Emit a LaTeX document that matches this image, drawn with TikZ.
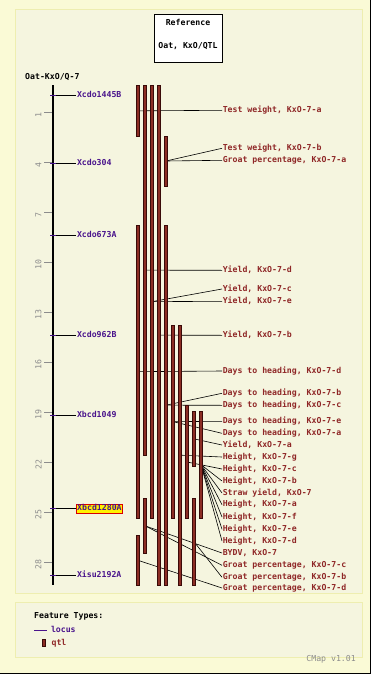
\documentclass[tikz,border=0pt]{standalone}
\usepackage{fontspec}
\setmonofont{DejaVu Sans Mono}
\usetikzlibrary{positioning}
\definecolor{pagebg}{HTML}{FAFAD6}
\definecolor{panelbg}{HTML}{F5F5DF}
\definecolor{panelrule}{HTML}{EEEEB0}
\definecolor{qtltext}{HTML}{8F2727}
\definecolor{qtlfill}{HTML}{8C2D24}
\definecolor{qtledge}{HTML}{3A0A08}
\definecolor{locuspurple}{HTML}{4A148C}
\definecolor{tickgray}{HTML}{8C8C8C}
\pgfdeclarelayer{bg}
\pgfdeclarelayer{links}
\pgfsetlayers{bg,links,main}

\begin{document}
\begin{tikzpicture}[x=1pt,y=-1pt,font=\ttfamily\bfseries\fontsize{8.2pt}{9pt}\selectfont]
 \tikzstyle{qtl}=[rectangle,draw=qtledge,fill=qtlfill,line width=0.6pt,minimum width=3.4pt,inner sep=0]
 \tikzstyle{trait}=[text=qtltext,anchor=west,inner sep=0.6pt,text height=6pt,text depth=1.6pt]
 \tikzstyle{locus}=[text=locuspurple,anchor=west,inner sep=0.8pt,text height=6pt,text depth=1.6pt]
 \tikzstyle{plain}=[inner sep=0,text height=6pt,text depth=1.6pt]
 \tikzstyle{link}=[black,line width=0.6pt]
 \tikzstyle{panel}=[draw=panelrule,fill=panelbg,line width=1pt]
 \useasboundingbox (0,0) rectangle (371,674);
 \begin{pgfonlayer}{bg}
  \fill[pagebg] (0,0) rectangle (371,674);
  \draw[panel] (15,10) rectangle (362,593);
  \draw[panel] (15,602) rectangle (362,657);
  \draw[line width=1pt] (370.5,0) -- (370.5,673.5) -- (0,673.5);
 \end{pgfonlayer}
 % title box
 \node[draw,fill=white,line width=0.8pt,minimum width=68pt,minimum height=48pt] (refbox) at (188,38) {};
 \node[plain] (reftitle) [below=5.5pt of refbox.north] {Reference};
 \node[plain] (refname) [below=15pt of reftitle] {Oat, KxO/QTL};
 \node[plain,anchor=west] (maptitle) at (25,77) {Oat-KxO/Q-7};
 % map axis
 \foreach \v in {1,4,...,28} {
  \draw[tickgray,line width=0.8pt] (44,{95.33+16.67*\v}) -- (53,{95.33+16.67*\v});
  \node[text=tickgray,rotate=90,inner sep=0] (t\v) at (38.5,{98+16.67*\v}) {\mdseries\v};
 }
 \node[fill=black,inner sep=0,minimum width=1.6pt,minimum height=500pt] (chr) at (53,335) {};
 % loci
 \foreach \n/\y/\t in {cdoA/95.3/Xcdo1445B, cdoB/163/Xcdo304, cdoC/235.3/Xcdo673A,
   cdoD/335.3/Xcdo962B, bcdA/415.3/Xbcd1049, isuA/575.3/Xisu2192A}
  \node[locus] (\n) at (76,\y) {\t};
 \node[locus,fill=yellow,draw=red!85!black,line width=0.8pt] (bcdB) at (76,508.7) {Xbcd1280A};
 \foreach \n in {cdoA,cdoB,cdoC,cdoD,bcdA,bcdB,isuA} {
  \draw[link] (\n.west -| chr.center) ++(-3pt,0) -- (\n.west);
  \draw[locuspurple,line width=0.8pt] (\n.west -| chr.center) ++(-3pt,0) -- ++(6pt,0);
 }
 % qtl bars: name/column/top/bottom
 \foreach \n/\c/\t/\b in {b1/0/85/136.7, b2/1/85/455.3, b3/2/85/518.3, b4/3/85/585.3,
   b5/4/136/186, b6/0/225/518.3, b7/4/225/585.3, b8/5/325/518.3, b9/6/325/585.3,
   b10/7/405.7/518.3, b11/8/411/466.7, b12/9/411/518.3, b13/1/498.3/553.3,
   b14/8/498/585.3, b15/0/535.3/585.3}
  \node[qtl,minimum height={(\b-\t)*1pt}] (\n) at ({138+7*\c},{(\t+\b)/2}) {};
 % trait labels
 \foreach \n/\y/\t in {twa/110.3/{Test weight, KxO-7-a}, twb/148.3/{Test weight, KxO-7-b},
   gpa/160.3/{Groat percentage, KxO-7-a}, yld/270.3/{Yield, KxO-7-d},
   ylc/289/{Yield, KxO-7-c}, yle/301.3/{Yield, KxO-7-e}, ylb/335.3/{Yield, KxO-7-b},
   dhd/371/{Days to heading, KxO-7-d}, dhb/393.3/{Days to heading, KxO-7-b},
   dhc/405.3/{Days to heading, KxO-7-c}, dhe/421.3/{Days to heading, KxO-7-e},
   dha/433.3/{Days to heading, KxO-7-a}, yla/445/{Yield, KxO-7-a},
   htg/457/{Height, KxO-7-g}, htc/469/{Height, KxO-7-c}, htb/481/{Height, KxO-7-b},
   sty/493/{Straw yield, KxO-7}, hta/504.7/{Height, KxO-7-a}, htf/517/{Height, KxO-7-f},
   hte/529.3/{Height, KxO-7-e}, htd/541/{Height, KxO-7-d}, bydv/553/{BYDV, KxO-7},
   gpc/565.3/{Groat percentage, KxO-7-c}, gpb/577.3/{Groat percentage, KxO-7-b},
   gpd/588/{Groat percentage, KxO-7-d}}
  \node[trait] (\n) at (222,\y) {\t};
 \begin{pgfonlayer}{links}
  \foreach \a/\b in {b1/twa, b5/twb, b5/gpa, b2/yld, b3/ylc, b3/yle, b4/ylb, b6/dhd,
    b7/dhb, b7/dhc, b8/dhe, b8/dha, b11/yla, b9/htg, b10/htc, b12/htb, b12/sty,
    b12/hta, b12/htf, b12/hte, b12/htd, b13/bydv, b13/gpc, b14/gpb, b15/gpd}
   \draw[link] (\a.center) -- (\b.west);
 \end{pgfonlayer}
 % legend
 \node[plain,anchor=west] (ftypes) at (34,616.7) {Feature Types:};
 \coordinate (lkA) at (34,630);
 \coordinate (lkB) at (47,630);
 \draw[locuspurple,line width=0.8pt] (lkA) -- (lkB);
 \node[locus] (lockey) [right=3pt of lkB] {locus};
 \node[qtl,minimum height=6.5pt] (qkey) at (43.8,643) {};
 \node[trait] (qtlkey) [right=5pt of qkey] {qtl};
 \node[text=tickgray,anchor=east,inner sep=0] (cmapver) at (356,659.5) {\mdseries CMap v1.01};
\end{tikzpicture}
\end{document}
